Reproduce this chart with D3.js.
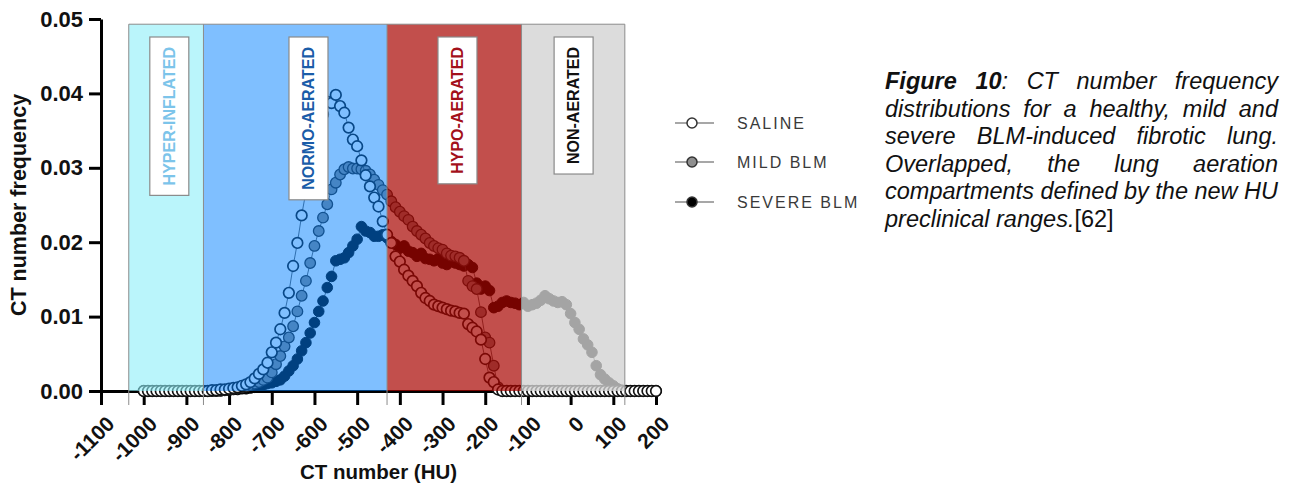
<!DOCTYPE html>
<html><head><meta charset="utf-8">
<script src="https://cdn.jsdelivr.net/npm/d3@7"></script>
<style>
html,body{margin:0;padding:0;background:#fff;}
svg{display:block;font-family:"Liberation Sans",Arial,Helvetica,sans-serif;}
</style></head><body>
<svg id="chart" width="1293" height="490"></svg>
<script>
// ---- data ----
const huValues = d3.range(-1000, 201, 10); // CT number bins (HU)
const saline = [
  0,0,0,0,0,0,0,0,0,0,
  0,0,0,0,0,0,0.0001,0.0001,0.0002,0.0002,
  0.0003,0.0004,0.0005,0.0007,0.0009,0.0012,0.0017,0.0023,0.0029,0.0038,
  0.0052,0.0065,0.0083,0.0105,0.0132,0.0168,0.0199,0.0236,0.0268,0.0298,
  0.0328,0.0352,0.0372,0.0389,0.0387,0.0398,0.0383,0.0374,0.0354,0.0338,
  0.0329,0.031,0.029,0.0275,0.026,0.0248,0.0228,0.021,0.0199,0.0181,
  0.0174,0.0163,0.0155,0.0148,0.0141,0.0132,0.0125,0.0121,0.0116,0.0114,
  0.0112,0.011,0.0108,0.0107,0.0105,0.0104,0.009,0.0085,0.008,0.0069,
  0.0043,0.0018,0.0012,0.0002,0,0,0,0,0,0,
  0,0,0,0,0,0,0,0,0,0,
  0,0,0,0,0,0,0,0,0,0,
  0,0,0,0,0,0,0,0,0,0,
  0
];
const mild = [
  0,0,0,0,0,0,0,0,0,0,
  0,0,0,0,0,0,0,0,0.0001,0.0001,
  0.0002,0.0003,0.0004,0.0005,0.0006,0.0008,0.001,0.0012,0.0015,0.0018,
  0.0025,0.0036,0.0047,0.006,0.0072,0.0087,0.0107,0.0128,0.0148,0.0172,
  0.0195,0.0215,0.0233,0.0251,0.0271,0.028,0.0291,0.0298,0.0301,0.0299,
  0.0299,0.0298,0.0296,0.0291,0.0284,0.0277,0.027,0.0264,0.0255,0.0247,
  0.0241,0.0235,0.023,0.0221,0.0215,0.021,0.0205,0.0199,0.0195,0.0192,
  0.019,0.0185,0.0182,0.0181,0.0179,0.0175,0.0148,0.0141,0.0137,0.0106,
  0.0072,0.0065,0.0034,0.0005,0,0,0,0,0,0,
  0,0,0,0,0,0,0,0,0,0,
  0,0,0,0,0,0,0,0,0,0,
  0,0,0,0,0,0,0,0,0,0,
  0
];
const severe = [
  0,0,0,0,0,0,0,0,0,0,
  0,0,0,0,0,0,0,0,0,0.0001,
  0.0001,0.0002,0.0002,0.0003,0.0003,0.0004,0.0005,0.0006,0.0008,0.001,
  0.0011,0.0013,0.0015,0.002,0.0027,0.0034,0.0043,0.0054,0.0065,0.0078,
  0.0092,0.0107,0.0121,0.0139,0.0154,0.0175,0.0177,0.0179,0.0186,0.0195,
  0.0204,0.0221,0.0215,0.0213,0.0208,0.0208,0.021,0.0206,0.0201,0.0197,
  0.0192,0.0195,0.0188,0.0186,0.0181,0.0185,0.0178,0.0177,0.0175,0.0178,
  0.0172,0.017,0.0175,0.0172,0.017,0.0168,0.017,0.0166,0.0145,0.0137,
  0.0141,0.0135,0.0112,0.0114,0.0119,0.0121,0.0119,0.0118,0.0116,0.0119,
  0.0114,0.0116,0.0118,0.0122,0.0128,0.0124,0.0121,0.0119,0.012,0.0116,
  0.0104,0.0092,0.0083,0.007,0.0062,0.0052,0.0034,0.0022,0.0016,0.0011,
  0.0007,0.0003,0.0001,0,0,0,0,0,0,0,
  0
];
const xTicks = [-1100,-1000,-900,-800,-700,-600,-500,-400,-300,-200,-100,0,100,200];
const yTicks = [0, 0.01, 0.02, 0.03, 0.04, 0.05];
const seriesNames = ["SALINE", "MILD BLM", "SEVERE BLM"];
const regionNames = ["HYPER-INFLATED", "NORMO-AERATED", "HYPO-AERATED", "NON-AERATED"];
const regionEdges = [-1035, -860, -430, -115, 127];
const regionLabelHU = [-940, -614, -265, 7];
const captionLines = [
  [[["Figure", "bi"]], [["10", "bi"], [":", "i"]], [["CT", "i"]], [["number", "i"]], [["frequency", "i"]]],
  [[["distributions","i"]],[["for","i"]],[["a","i"]],[["healthy,","i"]],[["mild","i"]],[["and","i"]]],
  [[["severe","i"]],[["BLM-induced","i"]],[["fibrotic","i"]],[["lung.","i"]]],
  [[["Overlapped,","i"]],[["the","i"]],[["lung","i"]],[["aeration","i"]]],
  [[["compartments","i"]],[["defined","i"]],[["by","i"]],[["the","i"]],[["new","i"]],[["HU","i"]]],
  [[["preclinical","i"]],[["ranges.","i"],["[62]","n"]]]
];

// ---- styles ----
const seriesStyle = [
  {fill: "#ffffff", stroke: "#111", sw: 1.7},
  {fill: "#8a8a8a", stroke: "#222", sw: 1.3},
  {fill: "#000000", stroke: "#000", sw: 1.0}
];
const regionFill = [
  {c: "rgb(140,238,248)", o: 0.6},
  {c: "rgb(0,128,255)", o: 0.5},
  {c: "rgb(168,4,0)", o: 0.7},
  {c: "rgb(210,210,210)", o: 0.78}
];
const regionTextColor = ["#7cc4ea", "#1a5ca8", "#a3101a", "#111111"];

const svg = d3.select("#chart");
const x = d3.scaleLinear().domain([-1100, 200]).range([101, 656]);
const y = d3.scaleLinear().domain([0, 0.05]).range([391, 19]);

// ---- axes ----
const gx = svg.append("g").attr("transform", `translate(0,${y(0)})`)
  .call(d3.axisBottom(x).tickValues(xTicks).tickSize(14).tickSizeOuter(0).tickFormat(d => String(d)));
gx.select(".domain").attr("stroke", "#000").attr("stroke-width", 3);
gx.selectAll(".tick line").attr("stroke", "#000").attr("stroke-width", 3);
gx.selectAll(".tick text")
  .attr("x", 0).attr("y", 0).attr("dy", "0.35em")
  .attr("text-anchor", "end")
  .attr("transform", "translate(9,29) rotate(-45)")
  .attr("fill", "#111")
  .style("font-size", "21px").style("font-weight", "bold").style("font-family", "'Liberation Sans',Arial,sans-serif");

const gy = svg.append("g").attr("transform", `translate(${x(-1100)},0)`)
  .call(d3.axisLeft(y).tickValues(yTicks).tickSize(12).tickPadding(6).tickSizeOuter(0).tickFormat(d3.format(".2f")));
gy.select(".domain").attr("stroke", "#000").attr("stroke-width", 3);
gy.selectAll(".tick line").attr("stroke", "#000").attr("stroke-width", 3);
gy.selectAll(".tick text").attr("fill", "#111")
  .style("font-size", "22px").style("font-weight", "bold").style("font-family", "'Liberation Sans',Arial,sans-serif");

// axis titles
svg.append("text")
  .attr("transform", `translate(26,${(y(0) + y(0.05)) / 2}) rotate(-90)`)
  .attr("text-anchor", "middle")
  .style("font-size", "21.5px").style("font-weight", "bold").attr("fill", "#111")
  .text("CT number frequency");
svg.append("text")
  .attr("x", (x(-1100) + x(200)) / 2).attr("y", 479)
  .attr("text-anchor", "middle")
  .style("font-size", "20.5px").style("font-weight", "bold").attr("fill", "#111")
  .text("CT number (HU)");

// ---- data (drawn under translucent compartments) ----
const allSeries = [saline, mild, severe];
const drawOrder = [2, 1, 0];
const line = d3.line().x((d, i) => x(huValues[i])).y(d => y(d));
drawOrder.forEach(si => {
  const vals = allSeries[si];
  const st = seriesStyle[si];
  const g = svg.append("g");
  g.append("path").datum(vals).attr("d", line)
    .attr("fill", "none").attr("stroke", "#333").attr("stroke-width", 0.8);
  g.selectAll("circle").data(vals).join("circle")
    .attr("cx", (d, i) => x(huValues[i])).attr("cy", d => y(d)).attr("r", 5.3)
    .attr("fill", st.fill).attr("stroke", st.stroke).attr("stroke-width", st.sw);
});

// ---- compartments ----
const regionTopVal = 0.0493;
regionNames.forEach((name, i) => {
  const x0 = x(regionEdges[i]), x1 = x(regionEdges[i + 1]);
  svg.append("rect")
    .attr("x", x0).attr("y", y(regionTopVal))
    .attr("width", x1 - x0).attr("height", y(0) - y(regionTopVal))
    .attr("fill", regionFill[i].c).attr("fill-opacity", regionFill[i].o);
});
svg.append("line")
  .attr("x1", x(regionEdges[0])).attr("x2", x(regionEdges[4]))
  .attr("y1", y(regionTopVal)).attr("y2", y(regionTopVal))
  .attr("stroke", "#8c8c8c").attr("stroke-width", 1);
regionEdges.forEach(e => {
  svg.append("line")
    .attr("x1", x(e)).attr("x2", x(e))
    .attr("y1", y(regionTopVal)).attr("y2", y(0) + 14)
    .attr("stroke", "#8c8c8c").attr("stroke-width", 1);
});

// label boxes
const boxTop = 37, boxW = 39, boxPad = 10;
regionNames.forEach((name, i) => {
  const g = svg.append("g");
  const t = g.append("text")
    .attr("text-anchor", "middle").attr("dy", "0.36em")
    .style("font-size", "16px").style("font-weight", "bold")
    .attr("fill", regionTextColor[i]).text(name);
  const len = t.node().getComputedTextLength();
  const h = len + 2 * boxPad;
  const cx = x(regionLabelHU[i]), cy = boxTop + h / 2;
  g.insert("rect", "text")
    .attr("x", -h / 2).attr("y", -boxW / 2).attr("width", h).attr("height", boxW)
    .attr("fill", "#fff").attr("stroke", "#8a8a8a").attr("stroke-width", 1.2);
  g.attr("transform", `translate(${cx},${cy}) rotate(-90)`);
});

// ---- legend ----
const legendY = [123, 162, 202];
seriesNames.forEach((name, i) => {
  const g = svg.append("g").attr("transform", `translate(0,${legendY[i]})`);
  g.append("line").attr("x1", 675).attr("x2", 714).attr("y1", 0).attr("y2", 0)
    .attr("stroke", "#8a8a8a").attr("stroke-width", 1.5);
  g.append("circle").attr("cx", 692).attr("cy", 0).attr("r", 5)
    .attr("fill", seriesStyle[i].fill === "#8a8a8a" ? "#8f8f8f" : seriesStyle[i].fill)
    .attr("stroke", "#333").attr("stroke-width", 1.5);
  g.append("text").attr("x", 737).attr("y", 0).attr("dy", "0.36em")
    .style("font-size", "16px").style("letter-spacing", "2px")
    .attr("fill", "#3a3a3a").text(name);
});

// ---- caption (justified) ----
const capX0 = 885, capX1 = 1278, capY0 = 89, capLH = 27.6, capFS = 23.5;
captionLines.forEach((words, li) => {
  const yy = capY0 + li * capLH;
  const nodes = words.map(parts => {
    const t = svg.append("text").attr("y", yy).style("font-size", capFS + "px").attr("fill", "#111");
    parts.forEach(([s, st]) => {
      const ts = t.append("tspan").text(s);
      if (st === "bi") ts.style("font-weight", "bold").style("font-style", "italic");
      else if (st === "i") ts.style("font-style", "italic");
    });
    return t;
  });
  const widths = nodes.map(n => n.node().getComputedTextLength());
  const total = d3.sum(widths);
  const last = li === captionLines.length - 1;
  const gap = last ? capFS * 0.278 : (capX1 - capX0 - total) / (nodes.length - 1);
  let cx = capX0;
  nodes.forEach((n, k) => { n.attr("x", cx); cx += widths[k] + gap; });
});
</script>
</body></html>
